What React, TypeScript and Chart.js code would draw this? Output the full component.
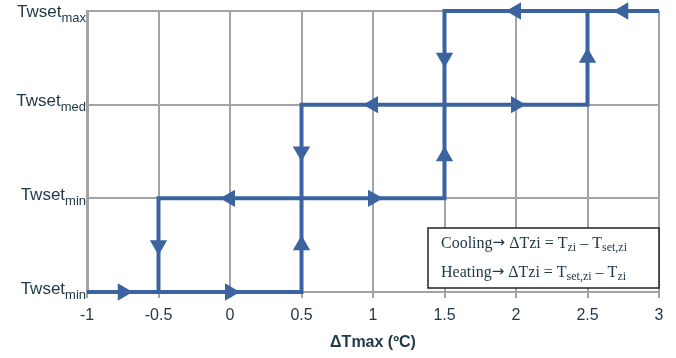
import React, { useEffect, useRef } from 'react';
import { Chart, registerables } from 'chart.js';

Chart.register(...registerables);

const xTicks = [-1, -0.5, 0, 0.5, 1, 1.5, 2, 2.5, 3];
const yLevels = [0, 1, 2, 3];
const yLabelMain = ['Twset', 'Twset', 'Twset', 'Twset'];
const yLabelSub = ['min', 'min', 'med', 'max'];
const xTitle = 'ΔTmax (ºC)';

// step paths
const pathAx = [-1, 0.5, 0.5, 2.5, 2.5, 3];
const pathAy = [0, 0, 2, 2, 3, 3];
const pathBx = [-0.5, -0.5, 1.5, 1.5, 2.5];
const pathBy = [0, 1, 1, 3, 3];

// arrow heads (rotation: 0 up, 90 right, 180 down, 270 left)
const arrowX = [-0.75, 0, -0.5, 0.5, 0.5, 0, 1, 1, 2, 1.5, 1.5, 2.5, 2, 2.75];
const arrowY = [0, 0, 0.5, 0.5, 1.5, 1, 1, 2, 2, 1.45, 2.5, 2.5, 3, 3];
const arrowRot = [90, 90, 180, 0, 180, 270, 90, 270, 90, 0, 180, 0, 270, 270];

// note box lines: [text, kind] kind: 'n' normal, 's' subscript, 'a' arrow symbol
const noteLine1: [string, string][] = [['Cooling', 'n'], ['→', 'a'], [' ΔTzi = T', 'n'], ['zi', 's'], [' – T', 'n'], ['set,zi', 's']];
const noteLine2: [string, string][] = [['Heating', 'n'], ['→', 'a'], [' ΔTzi = T', 'n'], ['set,zi', 's'], [' – T', 'n'], ['zi', 's']];

const BLUE = '#3B63A0';
const GRID = '#A3A3A3';
const TEXT = '#223A48';
const SANS = '"Liberation Sans", Arial, sans-serif';
const SERIF = '"Liberation Serif", "Times New Roman", serif';

const labelPlugin = {
  id: 'customLabels',
  afterDraw(chart: any) {
    const ctx = chart.ctx;
    const yScale = chart.scales.y;
    const area = chart.chartArea;
    ctx.save();
    // y labels with subscripts
    yLevels.forEach((v, i) => {
      const y = yScale.getPixelForValue(v);
      const right = area.left - 1;
      ctx.font = `13px ${SANS}`;
      const subW = ctx.measureText(yLabelSub[i]).width;
      ctx.font = `17px ${SANS}`;
      const mainW = ctx.measureText(yLabelMain[i]).width;
      ctx.fillStyle = TEXT;
      ctx.textBaseline = 'middle';
      ctx.textAlign = 'left';
      const x0 = right - subW - mainW;
      const dy = i === 3 ? 1 : -3;
      ctx.fillText(yLabelMain[i], x0, y + dy);
      ctx.font = `13px ${SANS}`;
      ctx.fillText(yLabelSub[i], x0 + mainW, y + dy + 6);
    });

    // note box
    const bw = 231;
    const bh = 60;
    const bx = area.right - bw;
    const by = area.bottom - 4 - bh;
    ctx.fillStyle = '#ffffff';
    ctx.fillRect(bx, by, bw, bh);
    ctx.strokeStyle = '#222222';
    ctx.lineWidth = 1.5;
    ctx.strokeRect(bx, by, bw, bh);
    const drawLine = (segs: [string, string][], yy: number) => {
      let x = bx + 13;
      ctx.textBaseline = 'alphabetic';
      ctx.textAlign = 'left';
      ctx.fillStyle = TEXT;
      segs.forEach(([t, kind]) => {
        ctx.font = kind === 's' ? `12px ${SERIF}` : kind === 'a' ? `15px "DejaVu Sans", sans-serif` : `16px ${SERIF}`;
        ctx.fillText(t, x, kind === 's' ? yy + 3 : kind === 'a' ? yy - 1 : yy);
        x += ctx.measureText(t).width;
      });
    };
    drawLine(noteLine1, by + 20);
    drawLine(noteLine2, by + 49);
    ctx.restore();
  },
};

export default function App() {
  const ref = useRef<HTMLCanvasElement | null>(null);
  useEffect(() => {
    document.body.style.margin = '0';
    if (!ref.current) return;
    const lineDs = (xs: number[], ys: number[]) => ({
      type: 'scatter' as const,
      data: xs.map((x, i) => ({ x, y: ys[i] })),
      showLine: true,
      borderColor: BLUE,
      borderWidth: 4,
      pointRadius: 0,
      fill: false,
      clip: false as any,
      borderJoinStyle: 'miter' as const,
      order: 2,
    });
    const chart = new Chart(ref.current, {
      type: 'scatter',
      data: {
        datasets: [
          lineDs(pathAx, pathAy),
          lineDs(pathBx, pathBy),
          {
            type: 'scatter',
            data: arrowX.map((x, i) => ({ x, y: arrowY[i] })),
            pointStyle: 'triangle',
            pointRadius: 10,
            pointRotation: arrowRot,
            backgroundColor: BLUE,
            borderColor: BLUE,
            borderWidth: 0,
            showLine: false,
            clip: false as any,
            order: 1,
          } as any,
        ],
      },
      options: {
        animation: false,
        responsive: false,
        layout: { padding: { top: 11, right: 17, left: 0, bottom: 0 } },
        plugins: { legend: { display: false }, tooltip: { enabled: false } },
        scales: {
          x: {
            type: 'linear',
            min: -1,
            max: 3,
            afterBuildTicks: (s: any) => {
              s.ticks = xTicks.map((v) => ({ value: v }));
            },
            afterFit: (s: any) => {
              s.height = 66;
            },
            ticks: {
              font: { family: SANS, size: 16 },
              color: TEXT,
              padding: 8,
              maxRotation: 0,
              callback: (v: any) => String(v),
            },
            grid: { color: GRID, lineWidth: 2, tickLength: 6, drawTicks: true },
            border: { color: GRID, width: 2 },
            title: {
              display: true,
              text: xTitle,
              color: TEXT,
              font: { family: SANS, size: 16, weight: 'bold' },
              padding: { top: 2, bottom: 6 },
            },
          },
          y: {
            type: 'linear',
            min: 0,
            max: 3,
            afterBuildTicks: (s: any) => {
              s.ticks = yLevels.map((v) => ({ value: v }));
            },
            afterFit: (s: any) => {
              s.width = 87;
            },
            ticks: { display: false },
            grid: { color: GRID, lineWidth: 2, drawTicks: false },
            border: { color: GRID, width: 3 },
          },
        },
      },
      plugins: [labelPlugin],
    } as any);
    return () => chart.destroy();
  }, []);
  return (
    <div style={{ width: 676, height: 358 }}>
      <canvas ref={ref} width={676} height={358} style={{ display: 'block' }} />
    </div>
  );
}
